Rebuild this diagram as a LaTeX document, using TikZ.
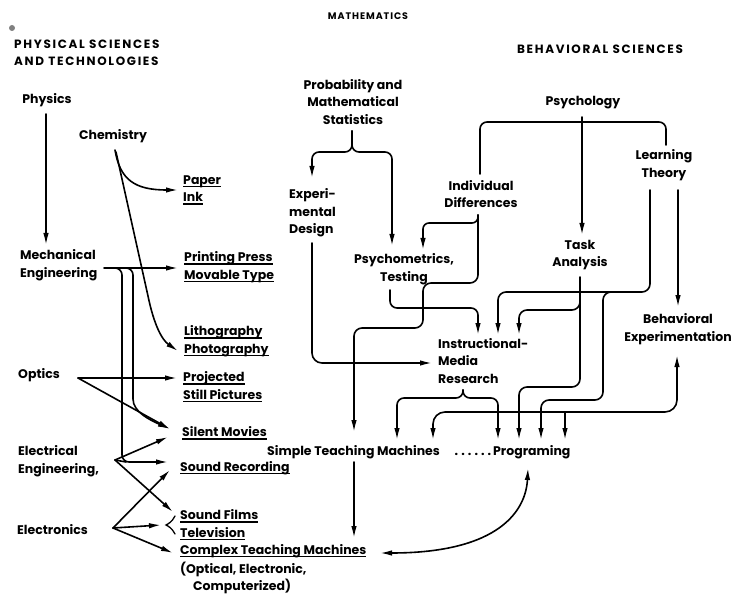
\documentclass[tikz,border=0pt]{standalone}
\usepackage{fontspec}
\setmainfont{Poppins}
\usetikzlibrary{arrows.meta}
\newcommand\ulx[1]{\setbox0=\hbox{#1}\leavevmode\rlap{\rule[-3pt]{\wd0}{1.3pt}}\box0}
\newcommand\dotrun{\makebox[40pt][l]{\leaders\hbox to 6.6pt{\hss.\hss}\hfill}}
\newcommand\lblfont{\bfseries\fontsize{12.5}{17.5}\selectfont}
\newcommand\hdfont{\bfseries\fontsize{12}{16.5}\selectfont\addfontfeatures{LetterSpace=14}}
\newcommand\mathfont{\bfseries\fontsize{9.5}{12}\selectfont\addfontfeatures{LetterSpace=10}}
\tikzset{
  every node/.style={inner sep=0pt, font=\lblfont},
  hd/.style={font=\hdfont},
  line/.style={line width=1.6pt, line cap=round},
  conn/.style={line width=1.6pt, line cap=round, -{Latex[length=12pt,width=5.5pt]}},
  both/.style={line width=1.6pt, {Latex[length=12pt,width=5.5pt]}-{Latex[length=12pt,width=5.5pt]}},
}
\begin{document}
\begin{tikzpicture}[x=1pt,y=-1pt]
\useasboundingbox (0,0) rectangle (735,601);
% headings
\node[font=\mathfont] (math) at (368,16) {MATHEMATICS};
\fill[gray] (12,28) circle (3);
\node[hd, anchor=west, align=left] (physsci) at (14,53) {PHYSICAL SCIENCES\\AND TECHNOLOGIES};
\node[hd] (behsci) at (600,49) {BEHAVIORAL SCIENCES};
% labels
\node (physics) at (47,100) {Physics};
\node (chem) at (113,136) {Chemistry};
\node[align=center] (prob) at (353,102) {Probability and\\Mathematical\\Statistics};
\node (psych) at (583,103) {Psychology};
\node[align=center] (learn) at (664,165) {Learning\\Theory};
\node[align=center] (indiv) at (481,194) {Individual\\Differences};
\node[anchor=west, align=left] (expd) at (289,213) {Experi-\\mental\\Design};
\node[align=center] (task) at (580,255) {Task\\Analysis};
\node[align=center] (psymet) at (404,269) {Psychometrics,\\Testing};
\node[align=center] (behexp) at (678,329) {Behavioral\\Experimentation};
\node[anchor=west, align=left] (imr) at (438,361) {Instructional-\\Media\\Research};
\node[anchor=west, align=left] (mech) at (20,265) {Mechanical\\Engineering};
\node[anchor=west, align=left] (paper) at (183,190) {\ulx{Paper}\\\ulx{Ink}};
\node[anchor=west, align=left] (press) at (184,267) {\ulx{Printing Press}\\\ulx{Movable Type}};
\node[anchor=west, align=left] (litho) at (184,341) {\ulx{Lithography}\\\ulx{Photography}};
\node[anchor=west] (optics) at (18,375) {Optics};
\node[anchor=west, align=left] (proj) at (183,387) {\ulx{Projected}\\\ulx{Still Pictures}};
\node[anchor=west] (silent) at (182,433) {\ulx{Silent Movies}};
\node[anchor=west, align=left] (elec) at (18,461) {Electrical\\Engineering,};
\node[anchor=west] (soundrec) at (180,468) {\ulx{Sound Recording}};
\node[anchor=west] (simple) at (267,452) {Simple Teaching Machines};
\node[anchor=west] (prog) at (453,452) {\dotrun Programing};
\node[anchor=west, align=left] (films) at (180,525) {\ulx{Sound Films}\\\ulx{Television}};
\node[anchor=west] (electronics) at (17,530) {Electronics};
\node[anchor=west] (complex) at (180,551) {\ulx{Complex Teaching Machines}};
\node[anchor=west, align=left] (optical) at (180,578) {(Optical, Electronic,\\\hspace*{13pt}Computerized)};
% physical sciences connectors
\draw[conn] (46,114) -- (46,245);
\draw[conn] (115,150) .. controls (120,180) and (135,190) .. (178,190);
\draw[conn] (116,152) -- (148,296) .. controls (154,325) and (162,340) .. (178,351);
\draw[conn] (104,268) -- (178,268);
\draw[conn, rounded corners=7pt] (110,268) -| (122,300) -- (122,462) -- (168,462);
\draw[conn, rounded corners=7pt] (118,268) -| (133,392) .. controls (133,412) and (150,420) .. (170,429);
\draw[conn] (78,378) -- (177,378);
\draw[conn] (78,378) -- (170,429);
\draw[conn] (115,460) -- (168,437);
\draw[line] (115,460) -- (126,462);
\draw[conn] (115,460) -- (173,512);
\draw[conn] (113,528) -- (170,470);
\draw[conn] (113,528) -- (161,525);
\draw[conn] (113,528) -- (173,553);
\draw[line, line width=1.3pt] (175,516) .. controls (172,522) and (168,524) .. (166,525) .. controls (168,526) and (172,528) .. (175,534);
% mathematics / behavioral connectors
\draw[conn, rounded corners=7pt] (352,131) -- (352,152) -| (312,178);
\draw[conn, rounded corners=7pt] (352,131) -- (352,152) -| (392,246);
\draw[conn, rounded corners=10pt] (312,243) |- (432,363);
\draw[conn, rounded corners=6pt] (478,215) |- (423,223) -- (423,250);
\draw[conn, rounded corners=8pt] (478,215) |- (423,283) |- (354,328) -- (354,432);
\draw[conn] (354,462) -- (354,538);
\draw[line, rounded corners=7pt] (582,122) -| (480,174);
\draw[line, rounded corners=7pt] (582,122) -| (666,145);
\draw[conn] (582,117) -- (582,235);
\draw[conn] (678,190) -- (678,307);
\draw[conn, rounded corners=8pt] (650,190) |- (498,292) -- (498,335);
\draw[conn, rounded corners=8pt] (616,292) -| (603,400) -| (541,440);
\draw[conn, rounded corners=8pt] (580,277) |- (519,310) -- (519,335);
\draw[conn, rounded corners=8pt] (580,300) |- (519,387) -- (519,440);
\draw[conn, rounded corners=7pt] (390,290) |- (478,308) -- (478,335);
\draw[conn, rounded corners=7pt] (463,390) -- (463,398) -| (397,440);
\draw[conn, rounded corners=7pt] (463,390) -- (463,398) -| (498,440);
\draw[both, rounded corners=12pt] (677,355) |- (433,412) -- (433,440);
\draw[conn] (565,412) -- (565,440);
\draw[both] (528,468) .. controls (526,510) and (500,553) .. (380,553);
\end{tikzpicture}
\end{document}
